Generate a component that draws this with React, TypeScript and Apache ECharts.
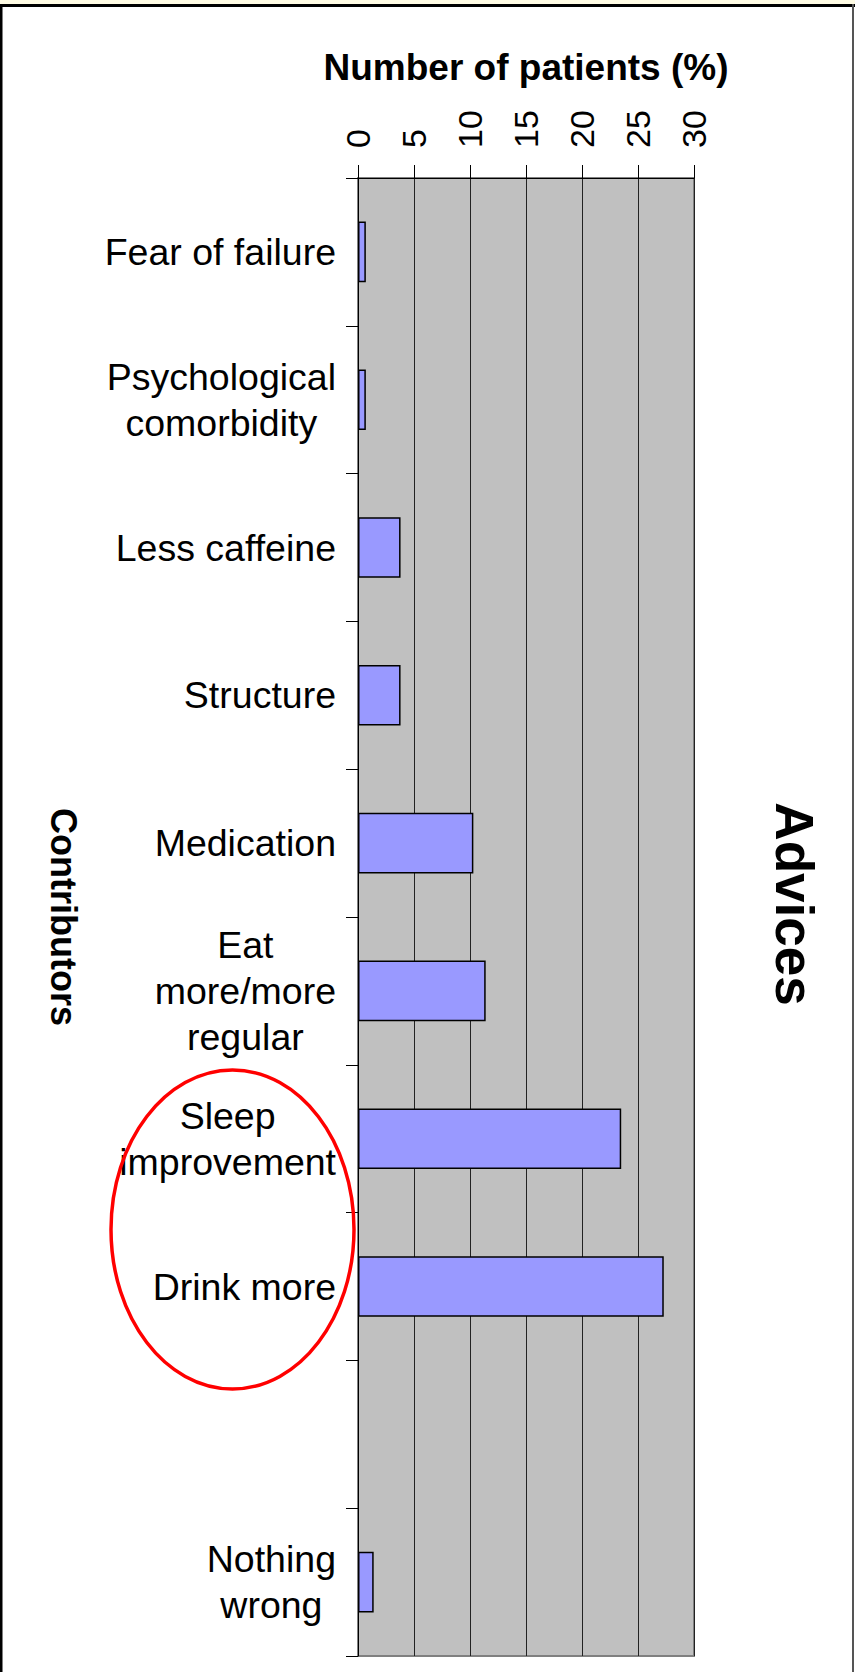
import React, { useEffect, useRef } from 'react';
import * as echarts from 'echarts';

// ---- Data ----
const categories: string[] = [
  'Fear of failure',
  'Psychological\ncomorbidity',
  'Less caffeine',
  'Structure',
  'Medication',
  'Eat\nmore/more\nregular',
  'Sleep\nimprovement',
  'Drink more',
  '',
  'Nothing\nwrong',
];
const values: (number | null)[] = [0.7, 0.7, 3.8, 3.8, 10.3, 11.4, 23.5, 27.3, null, 1.4];
const xMin = 0;
const xMax = 30;
const xInterval = 5;
const xAxisTitle = 'Number of patients (%)';
const yAxisTitle = 'Contributors';
const sideTitle = 'Advices';

const FONT = '"Liberation Sans", Arial, Helvetica, sans-serif';

export default function App() {
  const ref = useRef<HTMLDivElement>(null);

  useEffect(() => {
    if (!ref.current) return;
    const chart = echarts.init(ref.current, null, { renderer: 'svg' });
    const option: any = {
      animation: false,
      backgroundColor: '#ffffff',
      textStyle: { fontFamily: FONT },
      grid: {
        left: 358,
        right: 161,
        top: 178,
        bottom: 16,
        show: true,
        backgroundColor: '#C0C0C0',
        borderColor: '#808080',
        borderWidth: 2,
      },
      xAxis: {
        type: 'value',
        position: 'top',
        min: xMin,
        max: xMax,
        interval: xInterval,
        name: xAxisTitle,
        nameLocation: 'middle',
        nameGap: 92,
        nameTextStyle: { fontSize: 37, fontWeight: 'bold', color: '#000', fontFamily: FONT },
        axisLine: { show: true, lineStyle: { color: '#000', width: 1 } },
        axisTick: { show: true, length: 13, lineStyle: { color: '#000', width: 1 } },
        axisLabel: {
          rotate: -90,
          margin: 30,
          fontSize: 34,
          color: '#000',
          fontFamily: FONT,
          padding: [14, 0, 0, 0],
        },
        splitLine: { show: true, lineStyle: { color: '#222', width: 1 } },
      },
      yAxis: {
        type: 'category',
        inverse: true,
        data: categories,
        name: yAxisTitle,
        nameLocation: 'middle',
        nameRotate: -90,
        nameGap: 277,
        nameTextStyle: { fontSize: 36, fontWeight: 'bold', color: '#000', fontFamily: FONT },
        axisLine: { show: true, lineStyle: { color: '#000', width: 1 } },
        axisTick: { show: true, length: 12, lineStyle: { color: '#000', width: 1 } },
        axisLabel: {
          interval: 0,
          margin: 22,
          fontSize: 37.5,
          lineHeight: 46,
          color: '#000',
          fontFamily: FONT,
          formatter: (v: string) =>
            v ? v.split('\n').map((s) => `{c|${s}}`).join('\n') : '',
          rich: {
            c: { align: 'center', fontSize: 37.5, lineHeight: 46, color: '#000', fontFamily: FONT },
          },
        },
        splitLine: { show: false },
      },
      series: [
        {
          type: 'bar',
          data: values,
          barCategoryGap: '59%',
          itemStyle: { color: '#9999FF', borderColor: '#000', borderWidth: 1.5 },
        },
      ],
      graphic: [
        { type: 'rect', z: 50, shape: { x: 0, y: 0, width: 855, height: 4 }, style: { fill: '#FFFCE4' } },
        { type: 'rect', z: 50, shape: { x: 0, y: 4, width: 855, height: 3 }, style: { fill: '#000' } },
        { type: 'rect', z: 50, shape: { x: 0, y: 4, width: 2.5, height: 1668 }, style: { fill: '#000' } },
        { type: 'rect', z: 50, shape: { x: 852, y: 4, width: 2, height: 1668 }, style: { fill: '#555' } },
        {
          type: 'ellipse',
          z: 100,
          shape: { cx: 232.5, cy: 1229.5, rx: 121.5, ry: 159.5 },
          style: { fill: 'none', stroke: '#FF0000', lineWidth: 3.5 },
        },
        {
          type: 'text',
          z: 50,
          x: 794,
          y: 904,
          rotation: -Math.PI / 2,
          style: {
            text: sideTitle,
            fontSize: 53,
            fontWeight: 'bold',
            fill: '#000',
            align: 'center',
            verticalAlign: 'middle',
            fontFamily: FONT,
          },
        },
      ],
    };
    chart.setOption(option);
    return () => chart.dispose();
  }, []);

  return (
    <div
      ref={ref}
      style={{ position: 'absolute', left: 0, top: 0, width: 855, height: 1672 }}
    />
  );
}
